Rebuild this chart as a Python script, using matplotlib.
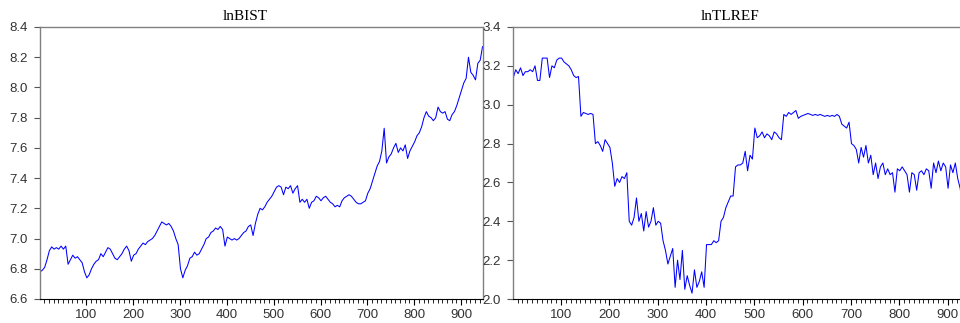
import numpy as np
import matplotlib
matplotlib.use("Agg")
import matplotlib.pyplot as plt
from matplotlib.ticker import MultipleLocator

# values read every 5 observations (obs 1, 6, 11, ...)
lnbist = [
    6.78, 6.79, 6.81, 6.86, 6.92, 6.945, 6.93, 6.94, 6.93, 6.95,
    6.93, 6.95, 6.83, 6.86, 6.89, 6.87, 6.88, 6.86, 6.84, 6.78,
    6.74, 6.76, 6.80, 6.83, 6.85, 6.86, 6.90, 6.88, 6.91, 6.94,
    6.93, 6.90, 6.87, 6.86, 6.88, 6.90, 6.93, 6.95, 6.92, 6.85,
    6.89, 6.90, 6.93, 6.95, 6.97, 6.96, 6.98, 6.99, 7.00, 7.02,
    7.05, 7.08, 7.11, 7.10, 7.09, 7.10, 7.08, 7.05, 7.00, 6.96,
    6.80, 6.74, 6.79, 6.82, 6.87, 6.88, 6.91, 6.89, 6.90, 6.93,
    6.96, 7.00, 7.01, 7.04, 7.05, 7.07, 7.06, 7.08, 7.06, 6.95,
    7.01, 7.00, 6.99, 7.00, 6.99, 7.00, 7.02, 7.04, 7.05, 7.08,
    7.09, 7.02, 7.10, 7.16, 7.20, 7.19, 7.21, 7.24, 7.26, 7.28,
    7.31, 7.34, 7.35, 7.34, 7.29, 7.34, 7.33, 7.35, 7.30, 7.33,
    7.35, 7.24, 7.26, 7.24, 7.26, 7.20, 7.24, 7.25, 7.28, 7.27,
    7.25, 7.27, 7.28, 7.26, 7.24, 7.23, 7.21, 7.22, 7.21, 7.25,
    7.27, 7.28, 7.29, 7.28, 7.26, 7.24, 7.23, 7.23, 7.24, 7.25,
    7.30, 7.33, 7.38, 7.43, 7.48, 7.51, 7.58, 7.73, 7.50, 7.54,
    7.56, 7.60, 7.63, 7.57, 7.60, 7.58, 7.62, 7.53, 7.58, 7.61,
    7.64, 7.68, 7.70, 7.74, 7.80, 7.84, 7.81, 7.80, 7.78, 7.80,
    7.87, 7.84, 7.83, 7.84, 7.79, 7.78, 7.82, 7.84, 7.88, 7.93,
    7.98, 8.03, 8.06, 8.20, 8.10, 8.08, 8.05, 8.16, 8.18, 8.27,
]

lntlref = [
    3.14, 3.18, 3.16, 3.19, 3.15, 3.17, 3.17, 3.18, 3.17, 3.20,
    3.125, 3.125, 3.24, 3.24, 3.24, 3.14, 3.20, 3.19, 3.23, 3.24,
    3.24, 3.22, 3.21, 3.20, 3.18, 3.15, 3.14, 3.145, 2.94, 2.96,
    2.955, 2.95, 2.955, 2.95, 2.80, 2.81, 2.79, 2.76, 2.82, 2.80,
    2.78, 2.70, 2.58, 2.62, 2.60, 2.63, 2.62, 2.65, 2.40, 2.38,
    2.42, 2.52, 2.40, 2.44, 2.35, 2.45, 2.37, 2.40, 2.47, 2.38,
    2.40, 2.39, 2.30, 2.25, 2.18, 2.22, 2.26, 2.06, 2.20, 2.10,
    2.25, 2.05, 2.12, 2.07, 2.03, 2.15, 2.06, 2.09, 2.14, 2.06,
    2.28, 2.28, 2.28, 2.30, 2.29, 2.30, 2.40, 2.42, 2.47, 2.50,
    2.53, 2.53, 2.68, 2.69, 2.69, 2.70, 2.76, 2.66, 2.74, 2.72,
    2.88, 2.83, 2.84, 2.86, 2.83, 2.85, 2.84, 2.82, 2.86, 2.85,
    2.83, 2.82, 2.95, 2.94, 2.96, 2.95, 2.96, 2.97, 2.93, 2.94,
    2.945, 2.95, 2.955, 2.95, 2.945, 2.95, 2.945, 2.95, 2.945, 2.94,
    2.945, 2.94, 2.945, 2.94, 2.95, 2.94, 2.90, 2.89, 2.88, 2.91,
    2.80, 2.79, 2.77, 2.70, 2.78, 2.73, 2.79, 2.70, 2.74, 2.64,
    2.70, 2.62, 2.68, 2.70, 2.64, 2.67, 2.64, 2.65, 2.55, 2.67,
    2.66, 2.68, 2.66, 2.64, 2.55, 2.65, 2.64, 2.56, 2.65, 2.66,
    2.64, 2.67, 2.66, 2.57, 2.70, 2.65, 2.71, 2.66, 2.70, 2.68,
    2.57, 2.69, 2.65, 2.70, 2.62, 2.57, 2.48, 2.58, 2.55, 2.47,
]

obs = 1 + 5 * np.arange(len(lnbist))

plt.rcParams['font.family'] = ['Liberation Sans', 'DejaVu Sans']

fig = plt.figure(figsize=(9.6, 3.23), dpi=100)
W, H = 960.0, 323.0

ax1 = fig.add_axes([40 / W, 24 / H, 443 / W, 272 / H])
ax2 = fig.add_axes([513.3 / W, 24 / H, 457 / W, 272 / H])

for ax, y, lims in [(ax1, lnbist, (6.6, 8.4)), (ax2, lntlref, (2.0, 3.4))]:
    ax.plot(obs, y, color='#0000ff', lw=0.75)
    ax.set_xlim(1, 947)
    ax.set_ylim(*lims)
    ax.xaxis.set_major_locator(MultipleLocator(100))
    ax.xaxis.set_minor_locator(MultipleLocator(10))
    ax.yaxis.set_major_locator(MultipleLocator(0.2))
    ax.yaxis.set_major_formatter(plt.FormatStrFormatter('%.1f'))
    ax.tick_params(axis='both', direction='out', labelsize=9.5,
                   labelcolor='#333333')
    ax.tick_params(axis='y', length=4, width=0.8, color='#555555', pad=5)
    ax.tick_params(axis='x', which='major', length=4, width=0.8, color='black', pad=3)
    ax.tick_params(axis='x', which='minor', length=3, width=0.6, color='black')
    for side in ['top', 'right', 'left']:
        ax.spines[side].set_color('#808080')
        ax.spines[side].set_linewidth(1.0)
    ax.spines['bottom'].set_color('black')
    ax.spines['bottom'].set_linewidth(0.8)

fig.text(245 / W, 1 - 16 / H, 'lnBIST', ha='center', va='center',
         fontsize=11, family='Liberation Serif')
fig.text(730 / W, 1 - 16 / H, 'lnTLREF', ha='center', va='center',
         fontsize=11, family='Liberation Serif')

fig.savefig('out.png', dpi=100)
